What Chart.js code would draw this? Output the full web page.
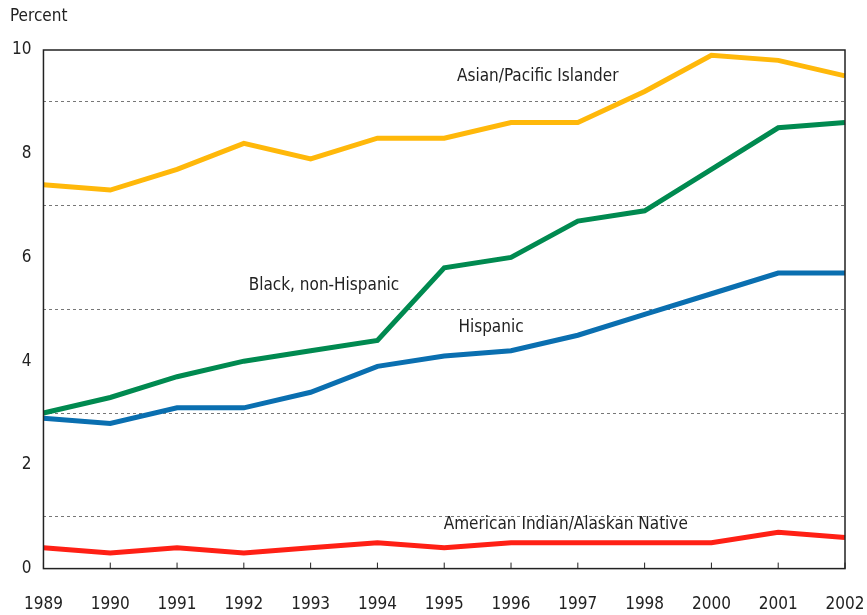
<!DOCTYPE html>
<html>
<head>
<meta charset="utf-8">
<script src="https://cdn.jsdelivr.net/npm/chart.js@4"></script>
<style>
  html, body { margin: 0; padding: 0; background: #fff; overflow: hidden; }
  canvas { display: block; }
</style>
</head>
<body>
<canvas id="chart" width="867" height="615"></canvas>
<script>
// Values (percent)
const years = ['1989', '1990', '1991', '1992', '1993', '1994', '1995', '1996', '1997', '1998', '2000', '2001', '2002'];
const asianPacific = [7.4, 7.3, 7.7, 8.2, 7.9, 8.3, 8.3, 8.6, 8.6, 9.2, 9.9, 9.8, 9.5];
const blackNonHispanic = [3.0, 3.3, 3.7, 4.0, 4.2, 4.4, 5.8, 6.0, 6.7, 6.9, 7.7, 8.5, 8.6];
const hispanic = [2.9, 2.8, 3.1, 3.1, 3.4, 3.9, 4.1, 4.2, 4.5, 4.9, 5.3, 5.7, 5.7];
const americanIndian = [0.4, 0.3, 0.4, 0.3, 0.4, 0.5, 0.4, 0.5, 0.5, 0.5, 0.5, 0.7, 0.6];

const FONT = '"Liberation Sans Narrow", "DejaVu Sans Condensed", "Arial Narrow", sans-serif';

// series labels, anchored in data space: [category index, value]
const seriesLabels = [
    { text: 'Asian/Pacific Islander', at: [7.4, 9.48] },
    { text: 'Black, non-Hispanic', at: [4.2, 5.45] },
    { text: 'Hispanic', at: [6.7, 4.65] },
    { text: 'American Indian/Alaskan Native', at: [7.82, 0.85] },
];

const framePlugin = {
    id: 'frame',
    afterDraw(chart) {
        const { ctx, chartArea: a, scales } = chart;
        ctx.save();
        ctx.strokeStyle = '#222';
        ctx.lineWidth = 1.5;
        ctx.strokeRect(a.left, a.top, a.right - a.left, a.bottom - a.top);
        // inward tick marks on the x axis
        ctx.lineWidth = 1;
        years.forEach((y, i) => {
            const x = scales.x.getPixelForValue(i);
            ctx.beginPath();
            ctx.moveTo(x, a.bottom);
            ctx.lineTo(x, a.bottom - 6);
            ctx.stroke();
        });
        ctx.fillStyle = '#222';
        ctx.font = '17px ' + FONT;
        ctx.textBaseline = 'middle';
        // axis unit, top left
        ctx.textAlign = 'left';
        ctx.fillText('Percent', 10, 17);
        ctx.textAlign = 'center';
        seriesLabels.forEach(l => {
            ctx.fillText(l.text, scales.x.getPixelForValue(l.at[0]), scales.y.getPixelForValue(l.at[1]));
        });
        ctx.restore();
    }
};

const line = (label, data, color) => ({
    label, data,
    borderColor: color,
    backgroundColor: color,
    borderWidth: 5,
    pointRadius: 0,
    tension: 0,
    fill: false,
});

new Chart(document.getElementById('chart'), {
    type: 'line',
    data: {
        labels: years,
        datasets: [
            line('Asian/Pacific Islander', asianPacific, '#FFB80A'),
            line('Black, non-Hispanic', blackNonHispanic, '#008A50'),
            line('Hispanic', hispanic, '#0A6FB0'),
            line('American Indian/Alaskan Native', americanIndian, '#FF2015'),
        ],
    },
    options: {
        responsive: false,
        animation: false,
        layout: { padding: { left: 0, right: 0, top: 50, bottom: -26 } },
        plugins: {
            legend: { display: false },
            tooltip: { enabled: false },
        },
        scales: {
            x: {
                offset: false,
                grid: { display: false, drawTicks: false },
                border: { display: false },
                ticks: {
                    color: '#222',
                    font: { family: FONT, size: 17 },
                    padding: 26,
                    maxRotation: 0,
                    autoSkip: false,
                },
                // end labels may run to the canvas edges, as in the original
                afterFit: s => { s.paddingRight = 22; s.paddingLeft = 0; },
            },
            y: {
                min: 0,
                max: 10,
                grid: {
                    drawTicks: false,
                    color: c => (c.tick.value % 2 === 1 ? '#777' : 'rgba(0,0,0,0)'),
                    lineWidth: 1,
                },
                border: { display: false, dash: [3, 3] },
                ticks: {
                    stepSize: 1,
                    color: '#222',
                    font: { family: FONT, size: 17 },
                    padding: 12,
                    callback: v => (v % 2 === 0 ? v : ''),
                },
            },
        },
    },
    plugins: [framePlugin],
});
</script>
</body>
</html>
